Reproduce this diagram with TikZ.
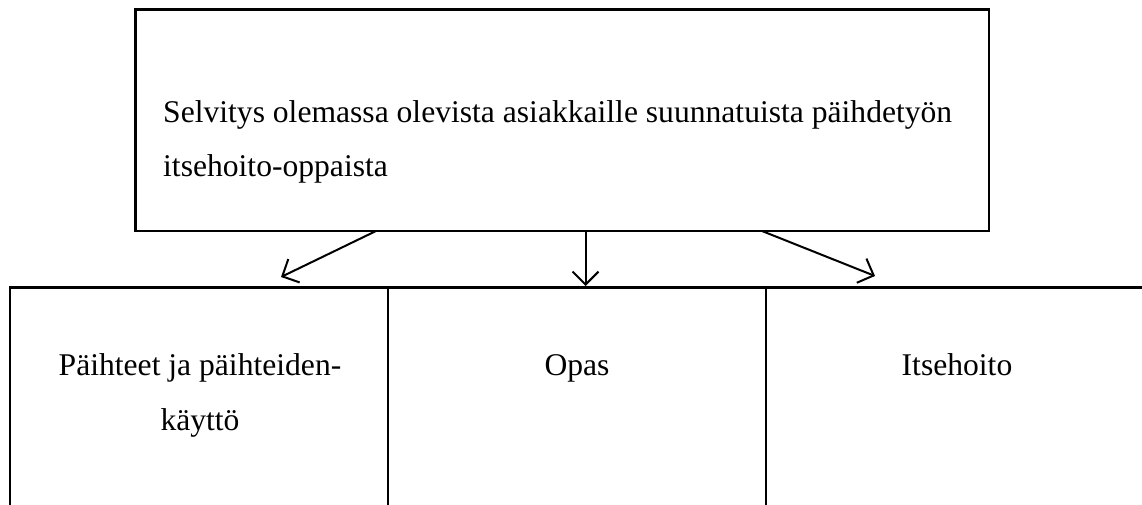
\documentclass[tikz,border=0pt]{standalone}
\usepackage{fontspec}
\setmainfont{Liberation Serif}
\usetikzlibrary{arrows.meta}
\begin{document}
\begin{tikzpicture}[x=1pt,y=-1pt,
  box/.style={draw,line width=2.2pt,inner sep=0pt},
  lbl/.style={anchor=base,inner sep=0pt,font=\fontsize{31.6}{36}\selectfont},
  arr/.style={line width=2pt,-{Straight Barb[length=13pt,width=26pt,line width=2pt]}}]
\useasboundingbox[fill=white] (0,0) rectangle (1142,504);
\node[box,minimum width=853.5pt,minimum height=221.5pt] (top) at (562.25,120.25) {};
\node[lbl,anchor=base west] (t1) at (163,122) {Selvitys olemassa olevista asiakkaille suunnatuista päihdetyön};
\node[lbl,anchor=base west] (t2) at (163,176) {itsehoito-oppaista};
\node[box,minimum width=378pt,minimum height=240pt] (b1) at (199,407.5) {};
\node[box,minimum width=378pt,minimum height=240pt] (b2) at (577,407.5) {};
\node[box,minimum width=382pt,minimum height=240pt] (b3) at (957,407.5) {};
\node[lbl] (l1) at (200,375) {Päihteet ja päihteiden-};
\node[lbl] (l2) at (200,430) {käyttö};
\node[lbl] (l3) at (577,375) {Opas};
\node[lbl] (l4) at (957,375) {Itsehoito};
\coordinate (a1s) at (376,231);
\coordinate (a1e) at (281,277);
\coordinate (a2s) at (585.5,231);
\coordinate (a2e) at (585.5,286);
\coordinate (a3s) at (762,231);
\coordinate (a3e) at (875,276);
\draw[arr] (a1s) -- (a1e);
\draw[arr] (a2s) -- (a2e);
\draw[arr] (a3s) -- (a3e);
\end{tikzpicture}
\end{document}
